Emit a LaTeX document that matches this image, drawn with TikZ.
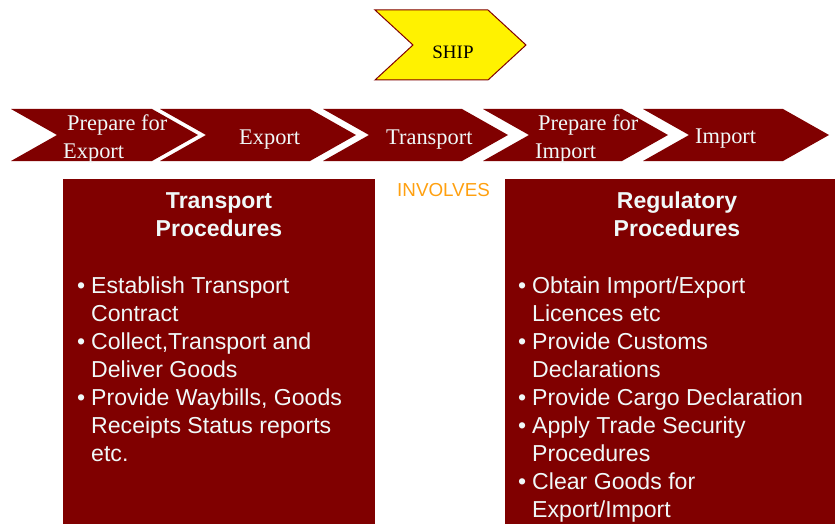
\documentclass[tikz,border=0pt]{standalone}
\usepackage{fontspec}
\setmainfont{Liberation Serif}
\newfontfamily\arialf{Liberation Sans}
\definecolor{maroon}{HTML}{800000}
\definecolor{txtw}{HTML}{F0F8F8}
\definecolor{involv}{HTML}{FFA010}
\begin{document}
\begin{tikzpicture}[x=1pt,y=-1pt,
  chev/.style={fill=maroon,draw=none},
  chevtxt/.style={text=txtw,font=\fontsize{22.4}{26}\selectfont,inner sep=0pt,anchor=base west},
  headtxt/.style={text=txtw,font=\arialf\bfseries\fontsize{23}{28}\selectfont,inner sep=0pt,anchor=base},
  bul/.style={text=txtw,font=\arialf\fontsize{23.1}{28}\selectfont,inner sep=0pt,anchor=base west},
  procbox/.style={fill=maroon,draw=none}]
\useasboundingbox (0,0) rectangle (835,524);
% SHIP chevron
\draw[fill=yellow,draw=maroon,line width=1pt] (375,10) -- (488,10) -- (526,45) -- (488,80) -- (375,80) -- (413,45) -- cycle;
\node[inner sep=0pt,anchor=base,font=\fontsize{19}{22}\selectfont] (ship) at (453,59) {SHIP};
% process chevrons
\foreach \xa/\w [count=\i] in {11/141,160/150,323/139,483/139,643/140}{
  \fill[chev] (\xa,109) -- ({\xa+\w},109) -- ({\xa+\w+46},135) -- ({\xa+\w},161) -- (\xa,161) -- ({\xa+46},135) -- cycle;
}
\node[chevtxt] (p1a) at (67,131) {Prepare for};
\node[chevtxt] (p1b) at (63,158) {Export};
\node[chevtxt] (p2) at (239,145) {Export};
\node[chevtxt] (p3) at (386,145) {Transport};
\node[chevtxt] (p4a) at (538,131) {Prepare for};
\node[chevtxt] (p4b) at (535,158) {Import};
\node[chevtxt] (p5) at (695,143) {Import};
% involves
\node[inner sep=0pt,anchor=base west,text=involv,font=\arialf\fontsize{18.8}{22}\selectfont] (inv) at (397,196) {INVOLVES};
% boxes
\fill[procbox] (63,179) rectangle (375,524);
\fill[procbox] (505,179) rectangle (835,524);
\node[headtxt] (h1a) at (219,208) {Transport};
\node[headtxt] (h1b) at (219,236) {Procedures};
\node[headtxt] (h2a) at (677,208) {Regulatory};
\node[headtxt] (h2b) at (677,236) {Procedures};
% left bullets
\foreach \y/\b/\t [count=\i] in {293/1/Establish Transport,321/0/Contract,349/1/{Collect,Transport and},377/0/Deliver Goods,405/1/{Provide Waybills, Goods},433/0/Receipts Status reports,461/0/etc.}{
  \node[bul] (l\i) at (91,\y) {\t};
  \ifnum\b=1 \node[bul] (lb\i) at (77,\y) {\textbullet}; \fi
}
% right bullets
\foreach \y/\b/\t [count=\i] in {293/1/{Obtain Import/Export},321/0/Licences etc,349/1/Provide Customs,377/0/Declarations,405/1/Provide Cargo Declaration,433/1/Apply Trade Security,461/0/Procedures,489/1/Clear Goods for,517/0/{Export/Import}}{
  \node[bul] (r\i) at (532,\y) {\t};
  \ifnum\b=1 \node[bul] (rb\i) at (518,\y) {\textbullet}; \fi
}
\end{tikzpicture}
\end{document}
